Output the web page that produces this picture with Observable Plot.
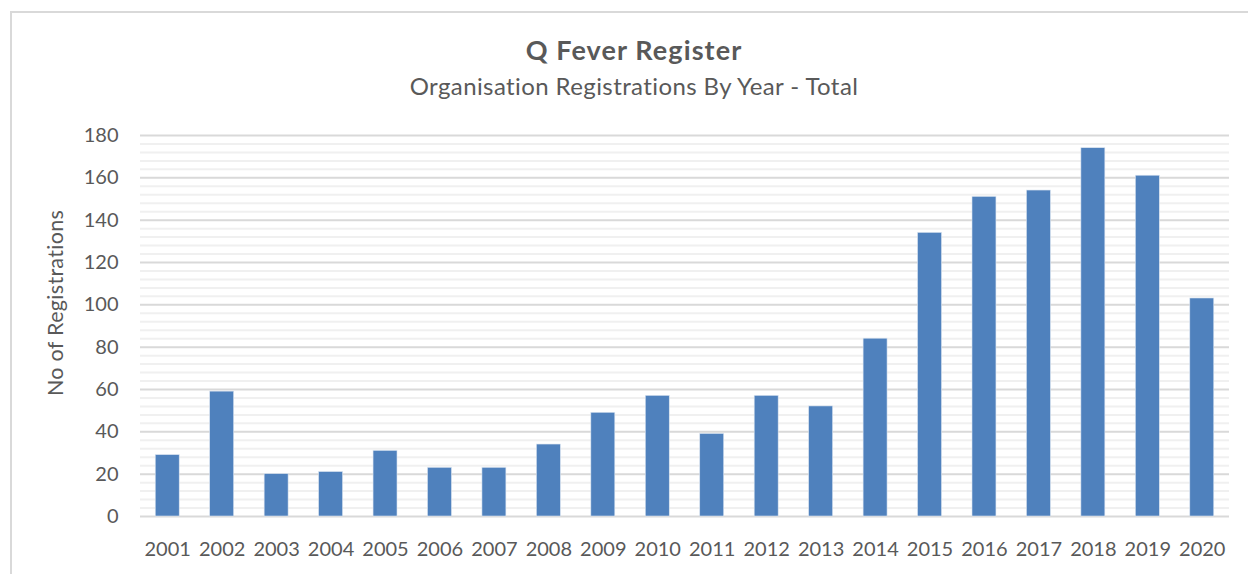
<!DOCTYPE html>
<html>
<head>
<meta charset="utf-8">
<script src="https://cdn.jsdelivr.net/npm/d3@7"></script>
<script src="https://cdn.jsdelivr.net/npm/@observablehq/plot@0.6"></script>
<style>
  html, body { margin: 0; padding: 0; background: #fff; overflow: hidden; }
  body { width: 1248px; height: 574px; position: relative; font-family: Lato, "Open Sans", sans-serif; color: #595959; }
  #frame { position: absolute; left: 10px; top: 11px; width: 1400px; height: 800px; border: 2px solid #d9d9d9; box-sizing: border-box; }
  #title { position: absolute; left: 0; width: 1268px; top: 33px; line-height: 34px; text-align: center; font-size: 27px; font-weight: bold; letter-spacing: 1.1px; }
  #subtitle { position: absolute; left: 0; width: 1268px; top: 71px; line-height: 30px; text-align: center; font-size: 24px; letter-spacing: 0.4px; }
  #ylabel { position: absolute; left: 55px; top: 303px; transform: translate(-50%, -50%) rotate(-90deg); white-space: nowrap; font-size: 21.5px; letter-spacing: 0.3px; }
  #chart { position: absolute; left: 0; top: 110px; }
</style>
</head>
<body>
<div id="frame"></div>
<div id="title">Q Fever Register</div>
<div id="subtitle">Organisation Registrations By Year - Total</div>
<div id="ylabel">No of Registrations</div>
<div id="chart"></div>
<script>
const years = ["2001","2002","2003","2004","2005","2006","2007","2008","2009","2010",
               "2011","2012","2013","2014","2015","2016","2017","2018","2019","2020"];
const registrations = [29, 59, 20, 21, 31, 23, 23, 34, 49, 57,
                       39, 57, 52, 84, 134, 151, 154, 174, 161, 103];
const yTicks = [0, 20, 40, 60, 80, 100, 120, 140, 160, 180];
const minorStep = 4;

const data = years.map((y, i) => ({year: y, value: registrations[i]}));
const minorTicks = d3.range(0, 181, minorStep).filter(v => !yTicks.includes(v));

const chart = Plot.plot({
  width: 1248,
  height: 464,
  marginTop: 25,
  marginBottom: 58,
  marginLeft: 140,
  marginRight: 19,
  style: {fontFamily: "Lato, 'Open Sans', sans-serif", fontSize: "20px", color: "#595959", background: "transparent"},
  x: {domain: years, paddingInner: 0.56, paddingOuter: 0.28, round: false, label: null},
  y: {domain: [0, 180], label: null},
  marks: [
    Plot.ruleY(minorTicks, {stroke: "#f0f0f0", strokeWidth: 2}),
    Plot.ruleY(yTicks, {stroke: "#d9d9d9", strokeWidth: 2}),
    Plot.barY(data, {x: "year", y: "value", fill: "#4f81bd", stroke: "#dbe5f1", strokeWidth: 0.6}),
    Plot.axisX({tickSize: 0, tickPadding: 25, label: null, fill: "#595959"}),
    Plot.axisY({ticks: yTicks, tickSize: 0, tickPadding: 22, label: null, tickFormat: d => String(d), fill: "#595959"})
  ]
});
document.getElementById("chart").appendChild(chart);
</script>
</body>
</html>
